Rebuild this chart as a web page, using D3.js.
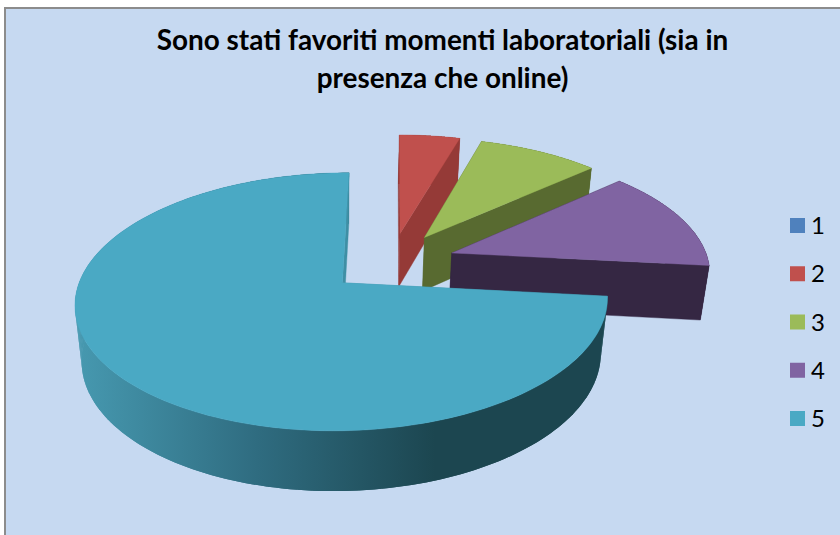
<!DOCTYPE html>
<html><head><meta charset="utf-8">
<script src="https://cdn.jsdelivr.net/npm/d3@7"></script>
<style>html,body{margin:0;padding:0;background:#fff}svg{display:block}</style>
</head><body><svg id="c" width="840" height="535"></svg>
<script>
const categories = ["1","2","3","4","5"];
const values = [0,2,4,6,33];
const topColors = ["#4f81bd","#c0504d","#9bbb59","#8064a2","#4aa9c4"];
const wallColors = ["#2c4a6e","#953a37","#586a30","#352743","url(#tealWall)"];
const cutColors = ["#2c4a6e","#953a37","#586a30","#352743","#3f8fa5"];
const titleLines = ["Sono stati favoriti momenti laboratoriali (sia in","presenza che online)"];

const svg = d3.select("#c");
const W = 840, H = 535;
const defs = svg.append("defs");
const g = defs.append("linearGradient").attr("id","tealWall").attr("gradientUnits","userSpaceOnUse")
  .attr("x1",80).attr("x2",435).attr("y1",0).attr("y2",0);
g.append("stop").attr("offset",0).attr("stop-color","#4698af");
g.append("stop").attr("offset",0.5).attr("stop-color","#2f6c80");
g.append("stop").attr("offset",1).attr("stop-color","#1c4650");

// panel
svg.append("rect").attr("x",5).attr("y",8).attr("width",W).attr("height",H)
  .attr("fill","#c6d9f1").attr("stroke","#8c8c8c").attr("stroke-width",2);

// title
svg.append("g").selectAll("text").data(titleLines).join("text")
  .attr("x",442.5).attr("y",(d,i)=>50+i*38)
  .attr("text-anchor","middle").attr("font-family","Lato, Carlito, sans-serif")
  .attr("font-weight",700).attr("font-size",27.9).attr("fill","#000").text(d=>d);

// perspective projection of the pie's plane
const x0=340,y0=282,a=263,b=126,s=-8,c=56.6,k=0.147,n=0.025;
const project=(u,v,z)=>{const w=1-k*v+n*z;return [x0+(a*u+s*v)/w,y0+(b*v+c*z)/w];};
const centerU=0.195,centerV=-0.161,explode=0.25;

const pie=d3.pie().sort(null).value(d=>d)(values);
const line=d3.line();
const layer=svg.append("g");
pie.forEach((p,i)=>{
  if(p.endAngle-p.startAngle<=0) return;
  const mid=(p.startAngle+p.endAngle)/2;
  const cu=centerU+explode*Math.sin(mid), cv=centerV-explode*Math.cos(mid);
  const angles=d3.range(0,181).map(j=>p.startAngle+(p.endAngle-p.startAngle)*j/180);
  const pt=(t,z)=>project(cu+Math.sin(t),cv-Math.cos(t),z);
  const apexT=project(cu,cv,0),apexB=project(cu,cv,1);
  const g0=layer.append("g").attr("class","slice");
  const poly=(pts,fill,sw)=>g0.append("path").attr("d",line(pts)+"Z").attr("fill",fill)
    .attr("stroke",sw?fill:"none").attr("stroke-width",sw);
  poly([apexT,pt(p.startAngle,0),pt(p.startAngle,1),apexB],cutColors[i],0.4);
  poly(angles.map(t=>pt(t,0)).concat(angles.slice().reverse().map(t=>pt(t,1))),wallColors[i],0);
  d3.pairs(angles).forEach(([t0,t1])=>poly([pt(t0,0),pt(t1,0),pt(t1,1),pt(t0,1)],wallColors[i],0));
  poly([apexT,pt(p.endAngle,0),pt(p.endAngle,1),apexB],cutColors[i],0.4);
  poly([apexT].concat(angles.map(t=>pt(t,0))),topColors[i],0.4);
});

// legend
const ly=d3.scalePoint().domain(categories).range([225.5,418.5]);
const leg=svg.append("g").selectAll("g").data(categories).join("g")
  .attr("transform",d=>`translate(790,${ly(d)})`);
leg.append("rect").attr("x",0).attr("y",-7.5).attr("width",15).attr("height",15).attr("fill",(d,i)=>topColors[i]);
leg.append("text").attr("x",21).attr("y",8.5).attr("font-family","Lato, Carlito, sans-serif")
  .attr("font-size",24).attr("fill","#000").text(d=>d);
</script></body></html>
